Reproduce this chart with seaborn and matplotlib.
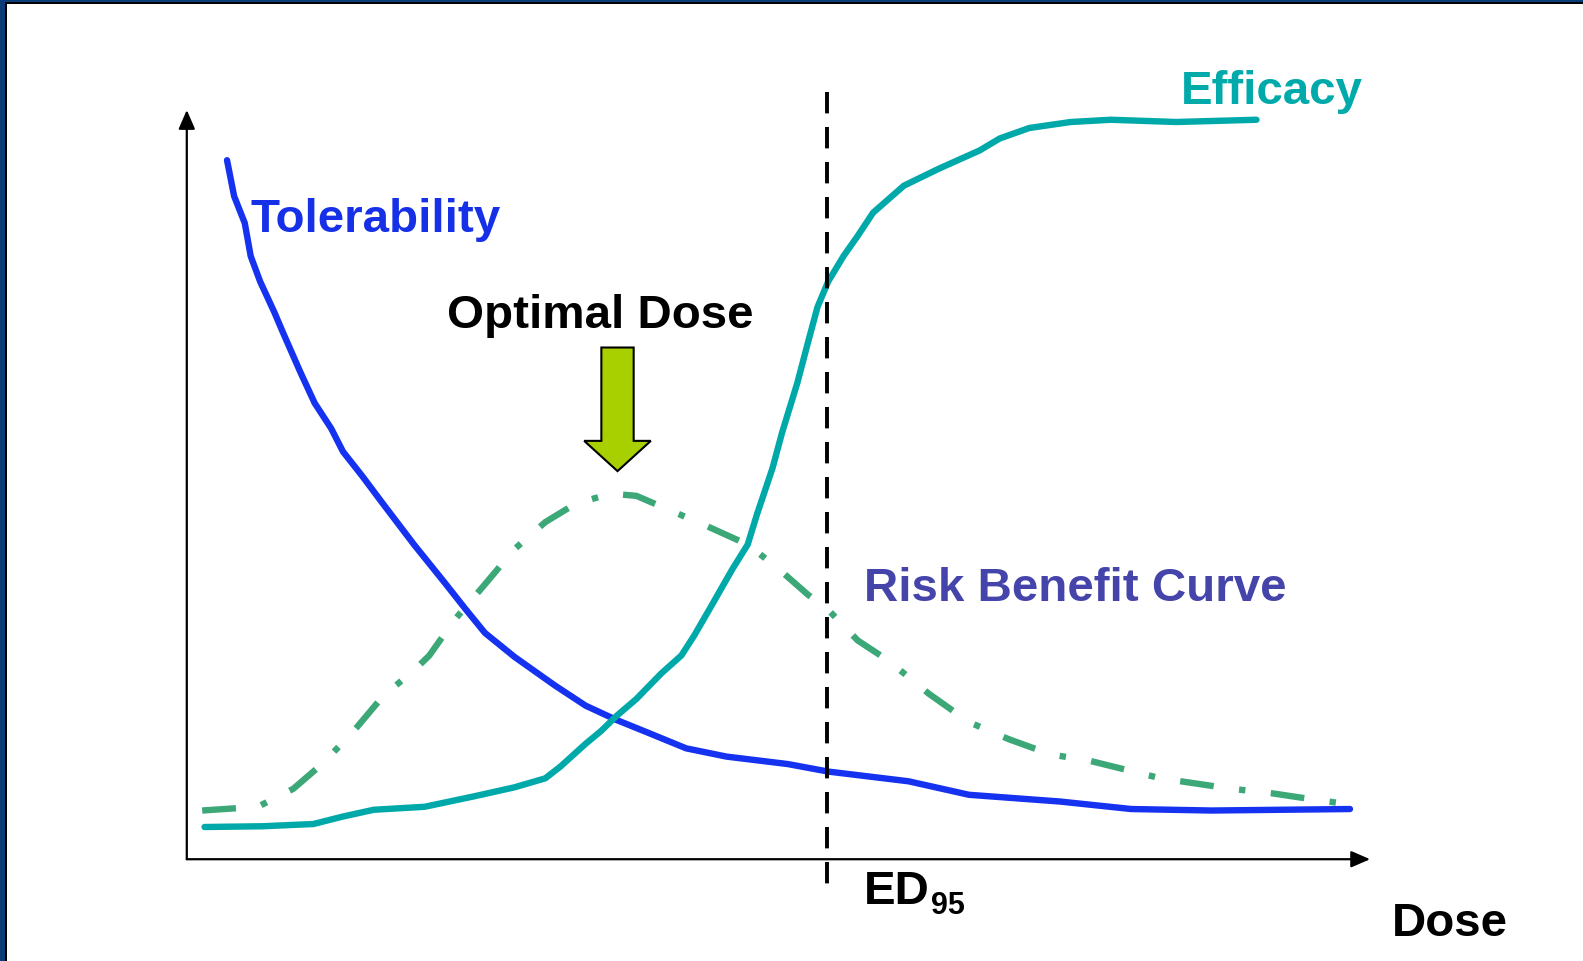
import numpy as np
import pandas as pd
import seaborn as sns
import matplotlib.pyplot as plt
from matplotlib.patches import Rectangle, FancyArrow

# dose on x (0-100), response on y (0-100)
tol_dose = [3.4, 4.0, 4.9, 5.4, 6.2, 7.4, 8.1, 9.6, 10.8, 12.2, 13.2, 14.8, 16.6, 19.2, 21.8,
            23.6, 25.2, 27.7, 31.1, 33.7, 36.3, 38.8, 42.2, 45.6, 50.8, 54.2, 61.0, 66.1,
            73.8, 79.8, 86.6, 98.3]
tol_resp = [93.3, 88.5, 84.9, 80.5, 77.1, 73.0, 70.4, 65.0, 60.9, 57.5, 54.4, 51.2, 47.4, 42.0,
            36.9, 33.3, 30.2, 27.0, 23.2, 20.5, 18.6, 17.0, 14.8, 13.7, 12.7, 11.7, 10.4, 8.6,
            7.7, 6.7, 6.5, 6.7]

eff_dose = [1.5, 6.4, 10.7, 13.2, 15.8, 20.1, 24.3, 27.7, 30.3, 31.6, 33.7, 35.0, 36.3, 38.0,
            40.1, 41.8, 42.9, 44.4, 46.1, 47.4, 48.2, 49.5, 50.3, 51.6, 52.5, 53.3, 54.2, 55.5,
            56.7, 58.0, 60.6, 63.6, 67.0, 68.7, 71.2, 74.7, 78.1, 83.6, 90.4]
eff_resp = [4.3, 4.4, 4.7, 5.7, 6.6, 7.0, 8.4, 9.6, 10.8, 12.4, 15.4, 17.1, 19.1, 21.4, 24.8,
            27.2, 29.9, 34.0, 38.7, 42.0, 46.1, 52.2, 56.9, 63.6, 69.0, 73.7, 77.1, 80.5, 83.2,
            86.3, 89.9, 92.2, 94.6, 96.2, 97.6, 98.4, 98.7, 98.4, 98.7]

rb_dose = [1.3, 6.0, 9.0, 11.5, 14.1, 16.6, 19.2, 20.5, 22.6, 25.2, 27.7, 30.3, 32.8, 35.8,
           38.0, 40.5, 43.9, 47.4, 49.9, 52.5, 54.2, 56.7, 59.3, 62.7, 66.1, 69.5, 73.0, 76.4,
           82.3, 88.3, 91.7, 95.1, 98.3]
rb_resp = [6.5, 7.0, 9.4, 12.8, 17.1, 21.8, 25.2, 27.2, 31.9, 36.7, 41.4, 45.0, 47.4, 48.8,
           48.5, 46.8, 44.5, 42.0, 38.9, 35.3, 33.3, 29.2, 26.5, 22.1, 18.3, 16.0, 14.0, 13.1,
           10.8, 9.4, 8.8, 8.0, 7.3]

ed95 = 54.1
optimal_dose = 36.4

tol = pd.DataFrame({'dose': tol_dose, 'resp': tol_resp})
eff = pd.DataFrame({'dose': eff_dose, 'resp': eff_resp})
rb = pd.DataFrame({'dose': rb_dose, 'resp': rb_resp})

sns.set_style('white')
plt.rcParams['font.family'] = ['Liberation Sans', 'DejaVu Sans']

fig = plt.figure(figsize=(15.83, 9.62), dpi=100)
ax = fig.add_axes([0.118, 0.1058, 0.7475, 0.7788])
ax.set_xlim(0, 100)
ax.set_ylim(0, 100)
ax.axis('off')

# slide frame (left / top edges)
fig.add_artist(Rectangle((0, 0), 5 / 1583, 1, transform=fig.transFigure, color='#0A3C78', lw=0))
fig.add_artist(Rectangle((5 / 1583, 0), 2 / 1583, 1 - 3 / 962, transform=fig.transFigure, color='black', lw=0))
fig.add_artist(Rectangle((0, 1 - 3 / 962), 1, 3 / 962, transform=fig.transFigure, color='#0A3C78', lw=0))
fig.add_artist(Rectangle((5 / 1583, 1 - 5 / 962), 1, 2 / 962, transform=fig.transFigure, color='black', lw=0))

# axes with arrow heads
for tip in [(1, 0), (0, 1)]:
    ax.annotate('', xy=tip, xytext=(0, 0), xycoords='axes fraction',
                arrowprops=dict(arrowstyle='-|>,head_length=1.15,head_width=0.5', color='black', lw=1.6,
                                shrinkA=0, shrinkB=0))

sns.lineplot(data=rb, x='dose', y='resp', ax=ax, color='#3CA878', lw=4.6, estimator=None,
             linestyle=(0, (5.3, 4.0, 1.0, 4.0)), clip_on=False)
sns.lineplot(data=tol, x='dose', y='resp', ax=ax, color='#1432F0', lw=4.6, estimator=None, clip_on=False)
sns.lineplot(data=eff, x='dose', y='resp', ax=ax, color='#00A9A9', lw=4.6, estimator=None, clip_on=False)

# ED95 marker, drawn top-down so the dash pattern starts at the top
ax.vlines(ed95, 102.4, -4.4, colors='black', lw=2.8, linestyles=(0, (5.5, 3.5)), clip_on=False)

arrow = FancyArrow(optimal_dose, 68.3, 0, -16.5, width=2.73, head_width=5.63, head_length=4.04,
                   length_includes_head=True, fc='#A8D000', ec='black', lw=1.5)
ax.add_patch(arrow)

fs = 34.2
ax.text(84.0, 100.9, 'Efficacy', color='#00AAAA', fontsize=fs, fontweight='bold', va='baseline')
ax.text(5.4, 83.8, 'Tolerability', color='#1530E6', fontsize=fs, fontweight='bold', va='baseline')
ax.text(22.0, 71.0, 'Optimal Dose', color='black', fontsize=fs, fontweight='bold', va='baseline')
ax.text(57.2, 34.6, 'Risk Benefit Curve', color='#4444AA', fontsize=fs, fontweight='bold', va='baseline')
ed = ax.text(57.2, -5.8, 'ED', color='black', fontsize=fs, fontweight='bold', va='baseline')
ax.annotate('95', xy=(1, 0), xycoords=ed, xytext=(1, 0), textcoords='offset points',
            color='black', fontsize=22, fontweight='bold', va='baseline')
ax.text(101.8, -10.1, 'Dose', color='black', fontsize=fs, fontweight='bold', va='baseline')

fig.savefig('out.png', dpi=100)
